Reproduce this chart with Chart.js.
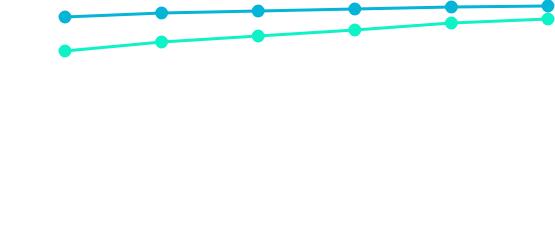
<!DOCTYPE html>
<html>
<head>
<meta charset="utf-8">
<script src="https://cdn.jsdelivr.net/npm/chart.js@4"></script>
<style>
  html, body { margin: 0; padding: 0; background: #fff; }
  canvas { display: block; }
</style>
</head>
<body>
<canvas id="chart" width="555" height="250"></canvas>
<script>
// Data
const labels = ['1', '2', '3', '4', '5', '6'];
const seriesA = [93.2, 94.8, 95.6, 96.4, 97.2, 97.6];
const seriesB = [79.6, 83.2, 85.6, 88.0, 90.8, 92.4];

const ctx = document.getElementById('chart').getContext('2d');
new Chart(ctx, {
    type: 'line',
    data: {
        labels: labels,
        datasets: [
            {
                label: 'A',
                data: seriesA,
                borderColor: '#06b4d8',
                backgroundColor: '#06b4d8',
                borderWidth: 3,
                pointRadius: 5,
                tension: 0.1
            },
            {
                label: 'B',
                data: seriesB,
                borderColor: '#0ff2c8',
                backgroundColor: '#0ff2c8',
                borderWidth: 3,
                pointRadius: 5,
                tension: 0.1
            }
        ]
    },
    options: {
        responsive: false,
        animation: false,
        clip: false,
        layout: { autoPadding: false, padding: { left: 65, right: 7, top: 0, bottom: 0 } },
        plugins: {
            legend: { display: false },
            tooltip: { enabled: false }
        },
        scales: {
            x: { display: false },
            y: { display: false, min: 0, max: 100 }
        }
    }
});
</script>
</body>
</html>
